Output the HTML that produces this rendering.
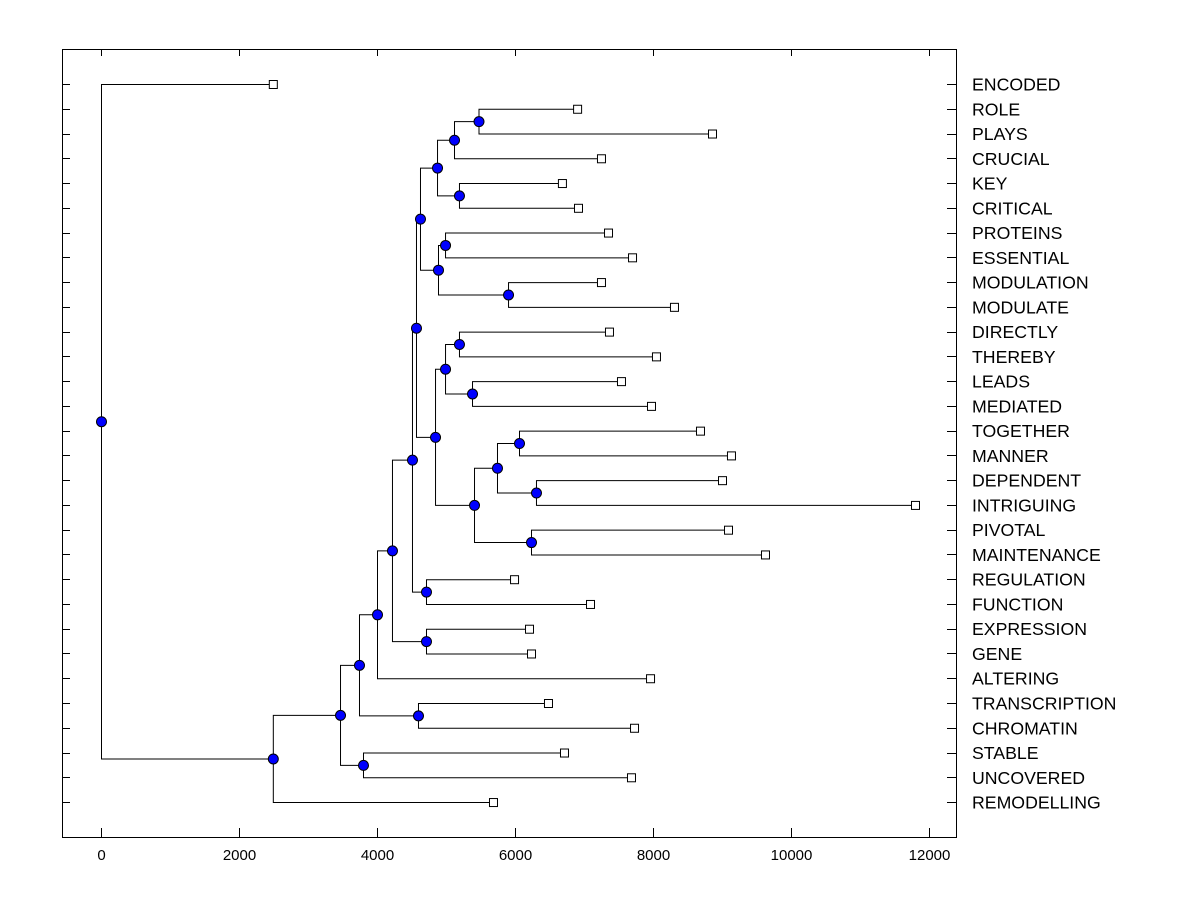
<!DOCTYPE html>
<html><head><meta charset="utf-8"><style>
html,body{margin:0;padding:0;background:#fff;}
svg{display:block;font-family:"Liberation Sans",Arial,sans-serif;}
</style></head><body>
<svg id="chart" width="1200" height="900"></svg>
<script>
const leafLabels=["ENCODED","ROLE","PLAYS","CRUCIAL","KEY","CRITICAL","PROTEINS","ESSENTIAL","MODULATION","MODULATE","DIRECTLY","THEREBY","LEADS","MEDIATED","TOGETHER","MANNER","DEPENDENT","INTRIGUING","PIVOTAL","MAINTENANCE","REGULATION","FUNCTION","EXPRESSION","GENE","ALTERING","TRANSCRIPTION","CHROMATIN","STABLE","UNCOVERED","REMODELLING"];
const leafHeights=[2490,6900,8855,7246,6680,6913,7348,7696,7246,8304,7362,8043,7536,7971,8681,9130,9000,11797,9087,9623,5986,7087,6203,6232,7957,6478,7725,6710,7681,5681];
// internal nodes: [name, height, child1, child2]; children are leaf labels or node names
const nodeDefs=[
["R",5471,"ROLE","PLAYS"],
["P",5116,"R","CRUCIAL"],
["Q",5188,"KEY","CRITICAL"],
["N",4870,"P","Q"],
["S",4986,"PROTEINS","ESSENTIAL"],
["T",5899,"MODULATION","MODULATE"],
["O",4884,"S","T"],
["L",4623,"N","O"],
["W",5188,"DIRECTLY","THEREBY"],
["X",5377,"LEADS","MEDIATED"],
["U",4986,"W","X"],
["AA",6058,"TOGETHER","MANNER"],
["BB",6304,"DEPENDENT","INTRIGUING"],
["Y",5739,"AA","BB"],
["Z",6232,"PIVOTAL","MAINTENANCE"],
["V",5406,"Y","Z"],
["M",4841,"U","V"],
["J",4565,"L","M"],
["K",4710,"REGULATION","FUNCTION"],
["H",4507,"J","K"],
["I",4710,"EXPRESSION","GENE"],
["G",4217,"H","I"],
["E",4000,"G","ALTERING"],
["F",4594,"TRANSCRIPTION","CHROMATIN"],
["C",3739,"E","F"],
["D",3797,"STABLE","UNCOVERED"],
["B",3464,"C","D"],
["A",2490,"B","REMODELLING"],
["ROOT",0,"ENCODED","A"]
];
const xTicks=[0,2000,4000,6000,8000,10000,12000];

const NS="http://www.w3.org/2000/svg";
const svg=document.getElementById('chart');
const X0=101,XS=0.069,Y0=84,YS=24.76;
const xs=v=>X0+v*XS;
const ys=i=>Y0+i*YS;
function mk(t,a,p){const e=document.createElementNS(NS,t);for(const k in a)e.setAttribute(k,a[k]);(p||svg).appendChild(e);return e;}

const frame=mk('rect',{x:62.5,y:49.5,width:894,height:788,fill:'none',stroke:'#000','stroke-width':1});



const pos={};
leafLabels.forEach((l,i)=>{pos[l]={x:xs(leafHeights[i]),y:ys(i),leaf:true};});
const lines=mk('g',{stroke:'#000','stroke-width':1,fill:'none'});


const markers=[];
nodeDefs.forEach(n=>{
  const c1=pos[n[2]],c2=pos[n[3]];
  const x=xs(n[1]),y=(c1.y+c2.y)/2;
  pos[n[0]]={x:x,y:y};
  const p=mk('path',{d:`M${c1.x},${c1.y+0.5}H${x+0.5}V${c2.y+0.5}H${c2.x}`},lines);
  
  
  markers.push([n[0],x,y]);
});
leafLabels.forEach((l,i)=>{
  const y=Math.round(ys(i))+0.5;
  const t1=mk('line',{x1:62,x2:70,y1:y,y2:y,stroke:'#000'});
  
  
  const t2=mk('line',{x1:947,x2:956,y1:y,y2:y,stroke:'#000'});
  
  
  const tx=mk('text',{x:972,y:ys(i)+6.5,'font-size':17.7,fill:'#000'});
  tx.textContent=l;
  
  
  const sq=mk('rect',{x:pos[l].x-3.5,y:pos[l].y-3.5,width:8,height:8,fill:'#fff',stroke:'#000'});
  
  
});
markers.forEach(m=>{
  const c=mk('circle',{cx:m[1]+0.5,cy:m[2]+0.5,r:5,fill:'#0000ff',stroke:'#000','stroke-width':1});
  
  
});
xTicks.forEach(v=>{
  const x=Math.round(xs(v))+0.5;
  const t=mk('line',{x1:x,x2:x,y1:828,y2:837,stroke:'#000'});
  
  
  const tt=mk('line',{x1:x,x2:x,y1:49,y2:56,stroke:'#000'});
  
  
  const tx=mk('text',{x:x,y:860,'font-size':15,'text-anchor':'middle',fill:'#000'});
  tx.textContent=v;
  
  
});
</script>
</body></html>
